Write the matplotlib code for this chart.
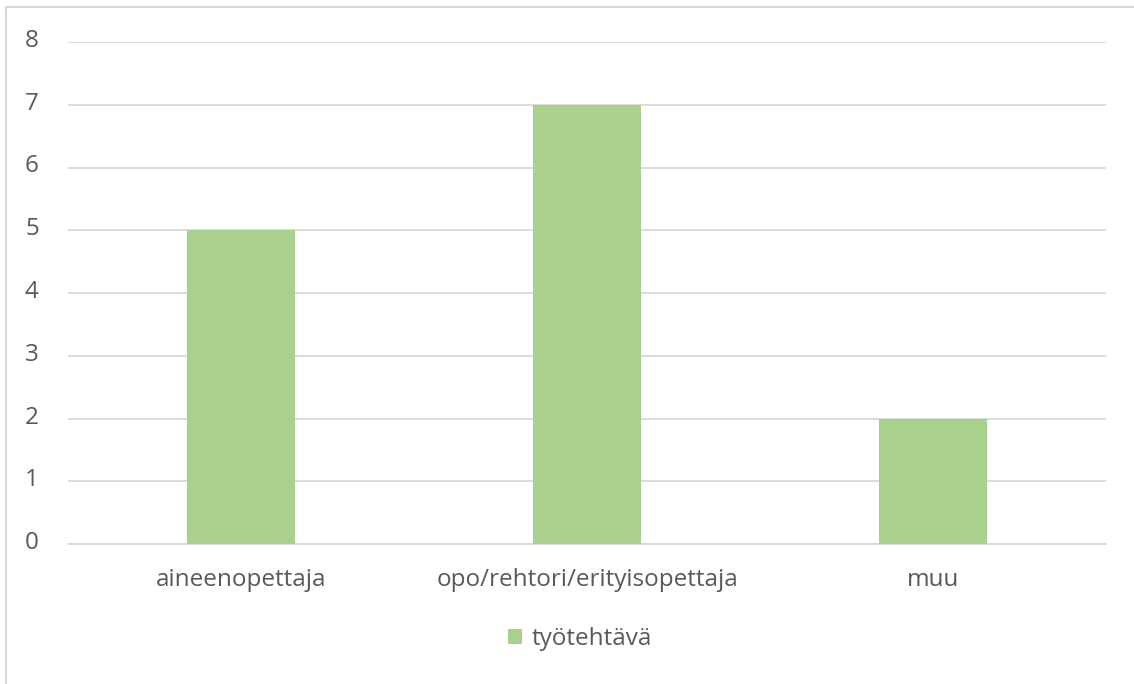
import matplotlib.pyplot as plt
import matplotlib.transforms as mtransforms
from matplotlib.patches import Rectangle

# data
categories = ["aineenopettaja", "opo/rehtori/erityisopettaja", "muu"]
values = [5, 7, 2]
series_name = "työtehtävä"
yticks = [0, 1, 2, 3, 4, 5, 6, 7, 8]

bar_color = "#A9D08E"
text_color = "#595959"
grid_color = "#D9D9D9"

plt.rcParams['font.family'] = ['Open Sans', 'DejaVu Sans']

fig = plt.figure(figsize=(11.34, 6.84), dpi=100)
ax = fig.add_axes([68 / 1134, 1 - 544 / 684, (1106 - 68) / 1134, (544 - 42) / 684])

x = range(len(categories))
ax.bar(x, values, width=0.31, color=bar_color, label=series_name, zorder=3)

ax.set_xlim(-0.5, len(categories) - 0.5)
ax.set_ylim(0, 8)
ax.set_yticks(yticks)
ax.set_xticks(list(x))
ax.set_xticklabels(categories)
ax.yaxis.grid(True, color=grid_color, linewidth=1.3, zorder=0)
for side in ["top", "right", "left"]:
    ax.spines[side].set_visible(False)
ax.spines["bottom"].set_color(grid_color)
ax.spines["bottom"].set_linewidth(1.3)
ax.tick_params(axis="both", length=0, colors=text_color, labelsize=17.5)
ax.tick_params(axis="y", pad=21)
ax.tick_params(axis="x", pad=17)

# y labels sit slightly above their gridlines
shift = mtransforms.ScaledTranslation(0, 4 / 100, fig.dpi_scale_trans)
for lbl in ax.get_yticklabels():
    lbl.set_transform(lbl.get_transform() + shift)

leg = fig.legend(loc="center", bbox_to_anchor=(580 / 1134, 1 - 639 / 684), frameon=False,
                 fontsize=17.5, handlelength=0.6, handleheight=0.6, handletextpad=0.4)
for t in leg.get_texts():
    t.set_color(text_color)

# outer chart border
fig.patches.append(Rectangle((6 / 1134, -0.05), 1.2, 1 - 7 / 684 + 0.05, transform=fig.transFigure,
                             fill=False, edgecolor=grid_color, linewidth=1.5))

fig.savefig("out.png", dpi=100)
